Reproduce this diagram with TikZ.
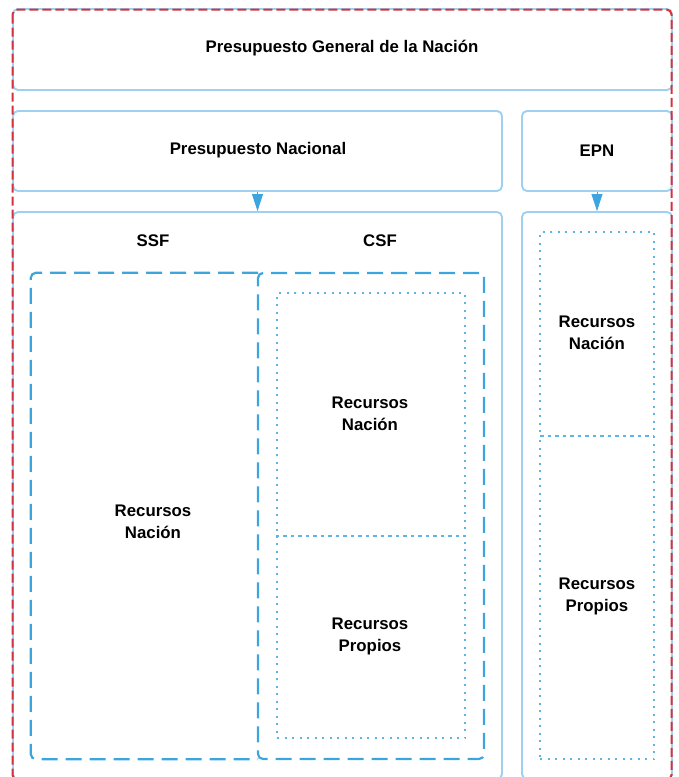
\documentclass[tikz,border=0pt]{standalone}
\usepackage{fontspec}
\setmainfont{Liberation Sans}
\usetikzlibrary{arrows.meta}
\definecolor{lightbl}{HTML}{9FD0F0}
\definecolor{dashbl}{HTML}{3DA5DE}
\definecolor{dotbl}{HTML}{5FB4E6}
\definecolor{redd}{HTML}{D3323E}
\tikzset{
  panel/.style={draw=lightbl, line width=1.9pt, rounded corners=5pt, fill=none, inner sep=0pt},
  groupline/.style={draw=dashbl, line width=2.2pt, dash pattern=on 16pt off 8pt, rounded corners=5pt},
  group/.style={groupline, inner sep=0pt},
  sub/.style={draw=dotbl, line width=2pt, dash pattern=on 2pt off 5.5pt, inner sep=0pt},
  lbl/.style={font=\fontsize{16.8}{22}\selectfont\bfseries, align=center, text=black},
  flow/.style={draw=dashbl, line width=0.8pt, -{Triangle[width=11pt,length=17pt]}, fill=dashbl},
}
\begin{document}
\begin{tikzpicture}[x=1pt,y=-1pt]
\useasboundingbox (0,0) rectangle (678,777);
% panels
\node[panel, minimum width=659pt, minimum height=81pt] (top) at (342.5,49.5) {};
\node[panel, minimum width=489pt, minimum height=80pt] (pn) at (257.5,151) {};
\node[panel, minimum width=150pt, minimum height=80pt] (epn) at (597,151) {};
\node[panel, minimum width=489pt, minimum height=567pt] (lowl) at (257.5,495.5) {};
\node[panel, minimum width=150pt, minimum height=567pt] (lowr) at (597,495.5) {};
% groups
\node[inner sep=0pt, minimum width=227pt, minimum height=486pt] (ssf) at (144.5,516) {};
\node[group, minimum width=226pt, minimum height=486pt] (csf) at (371,516) {};
\draw[groupline] (ssf.north east) -- (ssf.north west) -- (ssf.south west) -- (ssf.south east);
% sub boxes
\node[sub, minimum width=188pt, minimum height=243pt] (csfrn) at (371,414.5) {};
\node[sub, minimum width=188pt, minimum height=202pt] (csfrp) at (371,637) {};
\node[sub, minimum width=114pt, minimum height=204pt] (epnrn) at (597,334) {};
\node[sub, minimum width=114pt, minimum height=323pt] (epnrp) at (597,597.5) {};
% labels
\node[lbl] (ttop) at (342,48.5) {Presupuesto General de la Nación};
\node[lbl] (tpn) at (258,150.5) {Presupuesto Nacional};
\node[lbl] (tepn) at (597,150.5) {EPN};
\node[lbl] (tssf) at (153,241) {SSF};
\node[lbl] (tcsf) at (380,241) {CSF};
\node[lbl] (tssfrn) at (153,521.5) {Recursos\\Nación};
\node[lbl] (tcsfrn) at (370,413.5) {Recursos\\Nación};
\node[lbl] (tcsfrp) at (370,636.5) {Recursos\\Propios};
\node[lbl] (tepnrn) at (597,332.5) {Recursos\\Nación};
\node[lbl] (tepnrp) at (597,596.5) {Recursos\\Propios};
% connectors
\draw[flow] (pn.south) -- (lowl.north);
\draw[flow] (epn.south) -- (lowr.north);
% outer red dashed frame
\draw[redd, line width=2pt, dash pattern=on 9pt off 4pt, rounded corners=5pt] (12.5,9.5) rectangle (671.5,780);
\end{tikzpicture}
\end{document}
